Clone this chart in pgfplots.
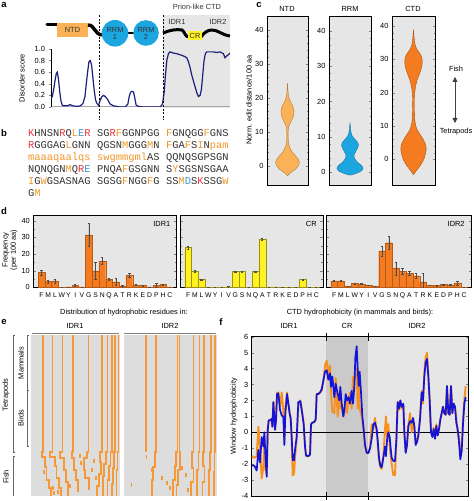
\documentclass[border=0pt]{standalone}
\usepackage{fontspec}
\setmainfont{Liberation Sans}
\setsansfont{Liberation Sans}
\setmonofont{Liberation Mono}
\usepackage{pgfplots}
\pgfplotsset{compat=1.18}
\usetikzlibrary{arrows.meta}

\definecolor{bgG}{HTML}{E6E6E6}
\definecolor{bgE}{HTML}{DDDDDD}
\definecolor{crG}{HTML}{CACACA}
\definecolor{orD}{HTML}{F47B20}
\definecolor{orL}{HTML}{FBB257}
\definecolor{orE}{HTML}{F59A36}
\definecolor{cyC}{HTML}{1BA6DF}
\definecolor{yeC}{HTML}{FFF21F}
\definecolor{navyC}{HTML}{1B1F7A}
\definecolor{blueF}{HTML}{1414D8}
\definecolor{orF}{HTML}{F7901E}
\definecolor{sqR}{HTML}{E8323C}
\definecolor{sqO}{HTML}{F0962A}
\definecolor{sqB}{HTML}{2B9BD8}
\definecolor{txt}{HTML}{333333}

\newcommand\xr[1]{\textcolor{sqR}{#1}}
\newcommand\xo[1]{\textcolor{sqO}{#1}}
\newcommand\xb[1]{\textcolor{sqB}{#1}}
\newcommand\fs{\fontsize{7.4}{8.4}\selectfont}
\newcommand\seqf{\ttfamily\fontsize{10.4}{12}\selectfont\color{txt}}

\pgfplotsset{
  panel/.style={scale only axis, anchor=south west,
    axis background/.style={fill=bgG},
    font=\fs, tick label style={font=\fs},
    /pgf/number format/assume math mode=true,
    tick align=inside, xtick=\empty,
    major tick length=2.5pt, minor tick length=1.5pt,
    axis line style={line width=0.5pt},
  },
  dbars/.style={panel, ybar, bar width=1, ymin=0, ymax=43.4, xmin=-1.2, xmax=20,
    height=72.3pt, xtick={0,...,19},
    xticklabels={F,M,L,W,Y,I,V,G,S,N,Q,A,T,R,K,E,D,P,H,C},
    x tick style={draw=none}, ytick={0,10,20,30,40}, minor y tick num=1,
    xticklabel style={font=\fontsize{6.8}{7}\selectfont, yshift=1pt},
    error bars/y dir=both, error bars/y explicit,
    error bars/error bar style={line width=0.4pt, black!70},
    error bars/error mark options={rotate=90, mark size=1.2pt, line width=0.4pt, black!70}},
  violin/.style={panel, xmin=-1, xmax=1, height=169pt, ytick={0,10,20,30,40}, minor y tick num=4},
  eline/.style={orE, line width=1.6pt, mark=none},
}

\begin{document}
\begin{tikzpicture}[x=1pt,y=1pt]
\useasboundingbox (0,0) rectangle (474,501);

% ---------------- panel a ----------------
\fill[bgG] (163,{501-108}) rectangle (230,{501-15});
\begin{axis}[scale only axis, anchor=south west, at={(51pt,394pt)}, width=179pt, height=58pt,
  xmin=152, xmax=690, ymin=0, ymax=1,
  axis x line=bottom, axis y line=left, axis line style={-},
  x axis line style={draw=gray!70, line width=1pt},
  xtick=\empty, ytick={0,0.2,0.4,0.6,0.8,1},
  yticklabel style={/pgf/number format/.cd, fixed, fixed zerofill, precision=1},
  tick align=outside, major tick length=2.5pt,
  font=\fs, tick label style={font=\fs}, /pgf/number format/assume math mode=true,
  ylabel={Disorder score}, ylabel style={yshift=3pt}]
\addplot[navyC, line width=1.2pt] coordinates {
(152,0.15) (156,0.18) (160,0.3) (164,0.45) (168,0.58) (171,0.6) (174,0.5) (178,0.28)
(182,0.1) (186,0.03) (192,0.02) (200,0.02) (210,0.04) (218,0.02) (230,0.01) (240,0.02)
(248,0.06) (254,0.18) (258,0.4) (262,0.6) (266,0.78) (270,0.8) (274,0.72) (278,0.5)
(282,0.28) (286,0.12) (290,0.06) (295,0.03) (300,0.12) (305,0.18) (310,0.2) (315,0.18)
(320,0.15) (325,0.1) (330,0.05) (340,0.02) (350,0.01) (360,0.0) (375,0.0) (383,0.05)
(387,0.18) (391,0.25) (395,0.27) (400,0.26) (404,0.15) (408,0.03) (415,0.01) (430,0.0)
(460,0.0) (480,0.0) (487,0.05) (492,0.25) (496,0.55) (500,0.8) (505,0.92) (510,0.95)
(520,0.93) (530,0.92) (540,0.9) (550,0.88) (560,0.85) (565,0.78) (570,0.68) (575,0.55)
(580,0.45) (585,0.35) (590,0.25) (595,0.18) (600,0.2) (604,0.3) (608,0.55) (612,0.8)
(616,0.92) (620,0.95) (630,0.95) (640,0.95) (650,0.94) (660,0.95) (670,0.92) (675,0.85)
(680,0.88) (685,0.9) (690,0.93)};
\end{axis}
\draw[black, line width=0.7pt, dash pattern=on 2pt off 1.6pt] (99,{501-15}) -- (99,{501-120});
\draw[black, line width=0.7pt, dash pattern=on 2pt off 1.6pt] (163,{501-15}) -- (163,{501-120});
% domain diagram
\draw[line width=3pt, line cap=round] (47,{501-25}) -- (57,{501-25});
\fill[orL] (57,{501-37}) rectangle (88,{501-23});
\node[font=\fs, txt] at (72.5,{501-30}) {NTD};
\draw[line width=3.4pt] (88,{501-25}) .. controls (95,{501-25}) and (94,{501-34}) .. (102,{501-35});
\draw[line width=2.5pt] (128,{501-33}) -- (134,{501-33});
\fill[cyC] (115,{501-33.3}) circle (13.3);
\fill[cyC] (146,{501-33}) circle (12.8);
\node[font=\fs, align=center, txt, inner sep=0pt] at (115,{501-33.5}) {RRM\\[-1pt]1};
\node[font=\fs, align=center, txt, inner sep=0pt] at (146,{501-33.5}) {RRM\\[-1pt]2};
\draw[line width=3pt] (163,{501-33}) .. controls (170,{501-30}) and (177,{501-29}) .. (182,{501-30}) .. controls (185,{501-32}) and (185,{501-37}) .. (189,{501-37});
\draw[line width=3pt] (201,{501-37}) .. controls (204,{501-33}) and (207,{501-30}) .. (212,{501-30}) .. controls (218,{501-30}) and (222,{501-35}) .. (230,{501-36});
\fill[yeC] (188,{501-40.5}) rectangle (202,{501-31.5});
\node[font=\fs, txt] at (195,{501-36}) {CR};
\node[font=\fs, txt] at (177,{501-22}) {IDR1};
\node[font=\fs, txt] at (218,{501-22}) {IDR2};
\node[font=\fs, txt] at (197,{501-7}) {Prion-like CTD};

% ---------------- panel b ----------------
\node[anchor=base west, inner sep=0pt, font=\seqf] at (28,{501-136.5}) {\xr{K}HNSN\xr{R}Q\xo{L}\xb{E}\xr{R}};
\node[anchor=base west, inner sep=0pt, font=\seqf] at (97,{501-136.5}) {SG\xr{R}\xo{F}GGNPGG};
\node[anchor=base west, inner sep=0pt, font=\seqf] at (166,{501-136.5}) {\xo{F}GNQGG\xo{F}GNS};
\node[anchor=base west, inner sep=0pt, font=\seqf] at (28,{501-148.6}) {\xr{R}GGGAG\xo{L}GNN};
\node[anchor=base west, inner sep=0pt, font=\seqf] at (97,{501-148.6}) {QGSN\xo{M}GGG\xo{M}N};
\node[anchor=base west, inner sep=0pt, font=\seqf] at (166,{501-148.6}) {\xo{F}GA\xo{F}S\xo{I}N\xo{pam}};
\node[anchor=base west, inner sep=0pt, font=\seqf] at (28,{501-160.7}) {\xo{maaaqaalqs}};
\node[anchor=base west, inner sep=0pt, font=\seqf] at (97,{501-160.7}) {\xo{swgmmgml}AS};
\node[anchor=base west, inner sep=0pt, font=\seqf] at (166,{501-160.7}) {QQNQSGPSGN};
\node[anchor=base west, inner sep=0pt, font=\seqf] at (28,{501-172.8}) {NQNQGN\xo{M}Q\xr{R}\xb{E}};
\node[anchor=base west, inner sep=0pt, font=\seqf] at (97,{501-172.8}) {PNQA\xo{F}GSGNN};
\node[anchor=base west, inner sep=0pt, font=\seqf] at (166,{501-172.8}) {S\xo{Y}SGSNSGAA};
\node[anchor=base west, inner sep=0pt, font=\seqf] at (28,{501-184.9}) {\xo{I}G\xo{W}GSASNAG};
\node[anchor=base west, inner sep=0pt, font=\seqf] at (97,{501-184.9}) {SGSG\xo{F}NGG\xo{F}G};
\node[anchor=base west, inner sep=0pt, font=\seqf] at (166,{501-184.9}) {SS\xo{M}\xb{D}S\xr{K}SSG\xo{W}};
\node[anchor=base west, inner sep=0pt, font=\seqf] at (28,{501-197}) {G\xo{M}};

% ---------------- panel c ----------------
\begin{axis}[violin, at={(267pt,316pt)}, width=41pt, ymin=-5.6, ymax=44]
\addplot[fill=orL, draw=orL!70!black, line width=0.4pt, smooth, tension=0.3] coordinates {
(0,-2.9) (0.15,-2) (0.38,-1) (0.52,0) (0.58,1) (0.52,2) (0.38,3) (0.24,4) (0.14,5) (0.08,6)
(0.05,7) (0.03,8.5) (0.03,10) (0.06,11.5) (0.17,13) (0.28,14.5) (0.32,16) (0.26,17.5)
(0.13,19) (0.05,20.5) (0.025,22) (0,24.3)
(-0.025,22) (-0.05,20.5) (-0.13,19) (-0.26,17.5) (-0.32,16) (-0.28,14.5) (-0.17,13)
(-0.06,11.5) (-0.03,10) (-0.03,8.5) (-0.05,7) (-0.08,6) (-0.14,5) (-0.24,4) (-0.38,3)
(-0.52,2) (-0.58,1) (-0.52,0) (-0.38,-1) (-0.15,-2)} -- cycle;
\end{axis}
\begin{axis}[violin, at={(329pt,316pt)}, width=42pt, ymin=-3.7, ymax=44.3]
\addplot[fill=cyC, draw=cyC!70!black, line width=0.4pt, smooth, tension=0.3] coordinates {
(0,-0.9) (0.25,-0.5) (0.52,0.2) (0.62,1) (0.55,1.8) (0.35,2.8) (0.22,3.8) (0.19,4.8)
(0.27,5.8) (0.38,7) (0.4,7.7) (0.35,8.5) (0.2,9.5) (0.08,10.5) (0.03,12) (0,13.8)
(-0.03,12) (-0.08,10.5) (-0.2,9.5) (-0.35,8.5) (-0.4,7.7) (-0.38,7) (-0.27,5.8) (-0.19,4.8)
(-0.22,3.8) (-0.35,2.8) (-0.55,1.8) (-0.62,1) (-0.52,0.2) (-0.25,-0.5)} -- cycle;
\end{axis}
\begin{axis}[violin, at={(392pt,316pt)}, width=43pt, ymin=-7.7, ymax=43]
\addplot[fill=orD, draw=orD!70!black, line width=0.4pt, smooth, tension=0.3] coordinates {
(0,-4.6) (0.12,-3.5) (0.3,-2) (0.48,0) (0.57,2) (0.59,3.1) (0.56,4.5) (0.45,6) (0.3,7.5)
(0.16,9) (0.09,10.5) (0.06,12) (0.045,15) (0.045,18) (0.06,20) (0.1,22) (0.18,24) (0.3,26)
(0.39,28) (0.41,29.5) (0.36,31) (0.27,32) (0.16,33) (0.07,34.5) (0.03,36.5) (0,38.7)
(-0.03,36.5) (-0.07,34.5) (-0.16,33) (-0.27,32) (-0.36,31) (-0.41,29.5) (-0.39,28) (-0.3,26)
(-0.18,24) (-0.1,22) (-0.06,20) (-0.045,18) (-0.045,15) (-0.06,12) (-0.09,10.5) (-0.16,9)
(-0.3,7.5) (-0.45,6) (-0.56,4.5) (-0.59,3.1) (-0.57,2) (-0.48,0) (-0.3,-2) (-0.12,-3.5)} -- cycle;
\end{axis}
\node[font=\fs] at (287,{501-9}) {NTD};
\node[font=\fs] at (350,{501-9}) {RRM};
\node[font=\fs] at (413,{501-9}) {CTD};
\node[font=\fs, rotate=90] at (249,{501-100}) {Norm. edit distance/100 aa};
\draw[{Triangle[length=5pt,width=5pt]}-{Triangle[length=5pt,width=5pt]}, line width=0.8pt, black!75] (455,{501-77}) -- (455,{501-123});
\node[font=\fs] at (456,{501-69}) {Fish};
\node[font=\fs] at (456,{501-132}) {Tetrapods};

% ---------------- panel d ----------------
\begin{axis}[dbars, at={(33.3pt,213.7pt)}, width=143.4pt]
\addplot[fill=orD, draw=orD!75!black, line width=0.3pt] table[x=x, y=v, y error=e] {
x v e
0 8.8 1.5
1 3.4 1.0
2 3.8 1.2
3 0.1 0
4 0.3 0
5 1.2 0.8
6 0.2 0
7 31.4 7
8 9.8 5
9 15.8 2.2
10 4.8 0.8
11 3.2 2.2
12 0.4 1.0
13 7.2 1.2
14 1.4 0.3
15 1.2 0.3
16 0.2 0
17 1.2 1.0
18 1.6 0.4
19 0 0
};
\node[anchor=north east, font=\fs] at (rel axis cs:0.98,0.96) {IDR1};
\end{axis}
\begin{axis}[dbars, at={(180pt,213.7pt)}, width=143pt, yticklabels={}]
\addplot[fill=yeC, draw=yeC!60!black, line width=0.3pt] table[x=x, y=v, y error=e] {
x v e
0 23.8 1.0
1 9.4 0.6
2 4.6 0.3
3 0 0
4 0 0
5 0 0
6 0.2 0.5
7 9.4 0.2
8 9.4 0.2
9 0 0
10 9.4 0.2
11 28.8 0.8
12 0.2 0
13 0.2 0
14 0 0
15 0 0
16 0 0
17 4.6 0.3
18 0 0
19 0 0
};
\node[anchor=north east, font=\fs] at (rel axis cs:0.98,0.96) {CR};
\end{axis}
\begin{axis}[dbars, at={(326pt,213.7pt)}, width=145pt, yticklabels={}]
\addplot[fill=orD, draw=orD!75!black, line width=0.3pt] table[x=x, y=v, y error=e] {
x v e
0 3.8 0.4
1 3.8 0.4
2 0.6 0
3 2.4 0.3
4 2.0 0.3
5 1.2 0.2
6 0.6 0
7 21.8 3
8 26.8 4
9 11.2 4
10 9.6 1.8
11 8.4 1.0
12 6.8 1.6
13 3.2 5
14 1.2 0.2
15 1.2 0.3
16 1.6 0.2
17 1.4 0.3
18 2.6 1.2
19 0 0
};
\node[anchor=north east, font=\fs] at (rel axis cs:0.98,0.96) {IDR2};
\end{axis}
\node[font=\fs, rotate=90, align=center] at (10,{501-250}) {Frequency\\(per 100 aa)};

% ---------------- panel e ----------------
\begin{axis}[scale only axis, anchor=south west, at={(0pt,1pt)}, width=230pt, height=170pt,
  xmin=0, xmax=230, ymin=330, ymax=500, y dir=reverse, hide axis, clip=false]
\fill[bgE] (axis cs:31,335) rectangle (axis cs:120,496);
\fill[bgE] (axis cs:124,335) rectangle (axis cs:217,496);
\addplot[eline] coordinates {(42.7,335)(42.7,452)(41.7,452)(41.7,457)(45,457)(45,467)(46.5,467)(46.5,480)(49,480)(49,488)(51,488)(51,496)};
\addplot[eline] coordinates {(52.3,335)(52.3,452)(50,452)(50,457)(55,457)(55,466)(56.5,466)(56.5,478)(59,478)(59,488)(61,488)(61,496)};
\addplot[eline] coordinates {(62.3,335)(62.3,452)(60,452)(60,458)(64,458)(64,470)(66,470)(66,482)(68,482)(68,496)};
\addplot[eline] coordinates {(72.7,335)(72.7,452)(71.7,452)(71.7,458)(74,458)(74,470)(76,470)(76,480)(78,480)(78,492)};
\addplot[eline] coordinates {(88.3,335)(88.3,452)(86.7,452)(86.7,458)(84,458)(84,470)(85,470)(85,478)(89,478)(89,490)};
\addplot[eline] coordinates {(101.7,335)(101.7,452)(100,452)(100,462)(101,462)(101,474)(99,474)(99,486)(97,486)(97,496)};
\addplot[eline] coordinates {(107.3,335)(107.3,452)(106,452)(106,464)(104,464)(104,476)(103,476)(103,496)};
\addplot[eline] coordinates {(111.7,335)(111.7,452)(110.5,452)(110.5,466)(109,466)(109,480)(107.5,480)(107.5,496)};
\addplot[eline] coordinates {(115,335)(115,452)(114,452)(114,468)(113,468)(113,484)(112,484)(112,496)};
\addplot[eline] coordinates {(118.3,335)(118.3,452)(117.5,452)(117.5,470)(116.5,470)(116.5,496)};
\addplot[eline] coordinates {(146,335)(146,452)};
\addplot[eline] coordinates {(156,335)(156,452)(155,452)(155,467)(153,467)(153,480)(152,480)(152,496)};
\addplot[eline] coordinates {(177.3,335)(177.3,452)(176,452)(176,466)(175,466)(175,480)(173,480)(173,496)};
\addplot[eline] coordinates {(179.3,335)(179.3,452)(180,452)(180,470)(178,470)(178,485)(176.5,485)(176.5,496)};
\addplot[eline] coordinates {(193.3,335)(193.3,452)(192,452)(192,468)(193.5,468)(193.5,482)(191,482)(191,496)};
\addplot[eline] coordinates {(199.3,335)(199.3,452)(198.5,452)(198.5,470)(197,470)(197,496)};
\addplot[eline] coordinates {(204,335)(204,452)(203,452)(203,466)(204.5,466)(204.5,482)(202.5,482)(202.5,496)};
\addplot[eline] coordinates {(211,335)(211,452)(210,452)(210,470)(209,470)(209,496)};
\addplot[eline] coordinates {(215,335)(215,452)(214.5,452)(214.5,472)(214,472)(214,496)};
\addplot[orE, only marks, mark=|, mark size=2pt, mark options={line width=1.5pt, orE}] coordinates {
(53,488)(54,493)(44,472)(80,456)(81,463)(94,461)(92,470)(58,492)(70,486)(96,478)
(146.5,457)(131.7,485)(152,470)(162,478)(167,483)(182,468)(186,475)(170,488)(188,490)};
\end{axis}
\node[font=\fs] at (124,{501-313}) {Distribution of hydrophobic residues in:};
\node[font=\fs] at (75,{501-326}) {IDR1};
\node[font=\fs] at (170,{501-326}) {IDR2};
\draw[gray, line width=0.6pt] (32,{501-333}) -- (119,{501-333});
\draw[gray, line width=0.6pt] (124,{501-333}) -- (216,{501-333});
\draw[gray!80!black, line width=0.5pt] (15,{501-335}) -- (13,{501-335}) -- (13,{501-452}) -- (15,{501-452});
\draw[gray!80!black, line width=0.5pt] (15,{501-456}) -- (13,{501-456}) -- (13,{501-496});
\draw[gray!80!black, line width=0.5pt] (29,{501-335}) -- (27,{501-335}) -- (27,{501-390}) -- (29,{501-390});
\draw[gray!80!black, line width=0.5pt] (27,{501-390}) -- (27,{501-446}) -- (29,{501-446});
\node[font=\fs, rotate=90] at (6,{501-395}) {Tetrapods};
\node[font=\fs, rotate=90] at (6,{501-477}) {Fish};
\node[font=\fs, rotate=90] at (21,{501-363}) {Mammals};
\node[font=\fs, rotate=90] at (21,{501-418}) {Birds};

% ---------------- panel f ----------------
\begin{axis}[panel, at={(251.7pt,5pt)}, width=216.3pt, height=159.3pt, xmin=80, xmax=729,
  ymin=-4, ymax=6, ytick={-4,-3,...,6}]
\fill[crG] (axis cs:303,-4) rectangle (axis cs:430,6);
\addplot[black, line width=0.5pt] coordinates {(80,0) (729,0)};
\addplot[orF, line width=1.9pt, line join=round] coordinates {
(80,-1.5) (88,-1.6) (95,-1.5) (100,0.35) (105,-1.0) (110,-2.9) (115,-2.2) (118,-0.3) (121,-2.3)
(125,-2.6) (128,0.2) (131,0.75) (136,0.75) (140,0.85) (142,0.35) (145,1.9) (150,0.3) (153,0.9)
(156,2.5) (160,2.5) (165,1.6) (170,2.5) (175,1.3) (178,-0.5) (181,1.5) (186,2.5) (190,1.8)
(194,1.2) (197,0.9) (200,-0.5) (203,-2.7) (207,-2.6) (210,-1.6) (215,-0.4) (220,1.8) (226,2.0)
(230,1.5) (236,0.6) (240,-0.9) (243,-1.5) (250,-1.5) (255,-1.4) (258,0.5) (262,0.6) (268,0.65)
(272,0.8) (275,2.4) (280,2.4) (285,2.5) (290,2.6) (295,3.2) (300,4.2) (305,4.5) (310,3.6)
(315,4.2) (318,2.5) (322,1.3) (328,1.2) (332,3.4) (338,1.0) (343,2.5) (346,1.5) (350,1.6)
(355,1.0) (358,1.3) (362,2.0) (366,1.2) (370,2.0) (375,2.5) (380,1.5) (384,3.5) (388,3.2)
(391,3.6) (395,4.0) (398,1.5) (401,3.0) (404,1.5) (408,1.2) (412,0.8) (416,0.0) (420,-0.9)
(425,-1.2) (430,-1.3) (435,-1.0) (440,0.5) (445,0.2) (450,0.9) (455,0.0) (458,-0.6) (462,-1.8)
(466,-2.2) (470,-2.3) (475,-1.5) (480,0.2) (483,1.0) (486,-0.3) (490,0.5) (494,-0.8) (497,-1.5)
(500,-2.0) (505,-2.7) (510,-2.7) (514,-0.5) (518,1.9) (522,1.4) (526,2.0) (530,1.5) (535,1.6)
(538,0.0) (542,-1.2) (546,-0.7) (550,0.4) (555,1.2) (560,0.0) (564,0.8) (568,0.3) (572,-0.7)
(576,-0.6) (580,-0.2) (585,0.9) (590,2.6) (594,1.8) (598,3.8) (602,4.7) (606,5.0) (610,3.6)
(614,2.0) (618,0.0) (622,-0.2) (626,0.3) (630,-0.4) (634,0.5) (638,-0.2) (642,0.2) (646,0.8)
(650,1.2) (654,1.6) (658,1.2) (662,1.1) (666,2.9) (670,1.2) (674,1.1) (678,2.9) (682,1.2)
(686,1.8) (690,1.6) (694,0.8) (698,0.0) (702,-0.3) (706,-1.5) (710,-1.0) (714,0.8) (718,2.0)
(722,2.9)};
\addplot[blueF, line width=1.7pt, line join=round] coordinates {
(80,-2.07) (88,-2.1) (95,-2.4) (100,-1.1) (105,-1.9) (110,-0.3) (115,-0.9) (118,0.0) (121,-1.4)
(125,-2.8) (128,0.1) (131,0.75) (136,0.75) (140,0.85) (142,0.35) (145,1.9) (150,0.15) (153,0.75)
(156,2.4) (160,2.45) (165,1.4) (170,1.07) (175,0.95) (178,-0.8) (181,1.2) (186,2.4) (190,1.8)
(194,1.15) (197,0.85) (200,-0.3) (203,-1.75) (207,-1.75) (210,-1.1) (215,-0.3) (220,1.9)
(226,1.95) (230,1.4) (236,0.5) (240,-0.9) (243,-1.45) (250,-1.5) (255,-1.4) (258,0.5) (262,0.6)
(268,0.65) (272,0.8) (275,2.4) (280,2.4) (285,2.5) (290,2.7) (295,3.25) (300,3.8) (305,3.9)
(310,3.3) (315,3.7) (318,2.85) (322,3.5) (328,2.2) (332,3.05) (338,2.4) (343,2.0) (346,2.85)
(350,1.8) (355,1.0) (358,1.4) (362,2.4) (366,2.0) (370,2.2) (375,1.8) (380,2.6) (384,1.8)
(388,2.9) (391,4.7) (395,5.4) (398,4.0) (401,2.9) (404,3.8) (408,2.5) (412,1.0) (416,0.2)
(420,-0.8) (425,-1.3) (430,-1.3) (435,-1.0) (440,-0.4) (445,0.5) (450,0.6) (455,0.2) (458,-0.5)
(462,-1.6) (466,-2.1) (470,-2.2) (475,-1.6) (480,-0.9) (483,-1.5) (486,-0.5) (490,0.0) (494,-0.3)
(497,-1.0) (500,-1.6) (505,-1.8) (510,-1.8) (514,-0.5) (518,1.9) (522,1.5) (526,2.0) (530,1.6)
(535,1.8) (538,0.0) (542,-1.3) (546,-0.8) (550,0.4) (555,0.7) (560,0.6) (564,0.9) (568,0.4)
(572,-0.8) (576,-0.6) (580,-0.2) (585,0.8) (590,2.5) (594,2.0) (598,3.5) (602,4.4) (606,4.6)
(610,3.5) (614,2.0) (618,0.0) (622,-0.3) (626,0.2) (630,-0.4) (634,0.4) (638,-0.2) (642,0.2)
(646,0.8) (650,1.2) (654,1.6) (658,1.2) (662,1.1) (666,2.9) (670,1.2) (674,1.1) (678,2.9)
(682,1.2) (686,1.8) (690,1.6) (694,0.6) (698,0.2) (702,-0.6) (706,-1.7) (710,-1.2) (714,0.5)
(718,1.8) (722,2.2)};
\end{axis}
\draw[black, line width=0.6pt] (326,{501-333}) -- (326,{501-341});
\draw[black, line width=0.6pt] (368.3,{501-333}) -- (368.3,{501-341});
\draw[black, line width=0.6pt] (326,{501-492}) -- (326,{501-500});
\draw[black, line width=0.6pt] (368.3,{501-492}) -- (368.3,{501-500});
\node[font=\fs] at (360,{501-313}) {CTD hydrophobicity (in mammals and birds):};
\node[font=\fs] at (289,{501-326}) {IDR1};
\node[font=\fs] at (347,{501-326}) {CR};
\node[font=\fs] at (417,{501-326}) {IDR2};
\node[font=\fs, rotate=90] at (234,{501-416}) {Window hydrophobicity};

% ---------------- panel letters ----------------
\node[font=\bfseries\fontsize{9.5}{10}\selectfont] at (4,{501-5}) {a};
\node[font=\bfseries\fontsize{9.5}{10}\selectfont] at (4,{501-133}) {b};
\node[font=\bfseries\fontsize{9.5}{10}\selectfont] at (259,{501-5}) {c};
\node[font=\bfseries\fontsize{9.5}{10}\selectfont] at (4,{501-211}) {d};
\node[font=\bfseries\fontsize{9.5}{10}\selectfont] at (4,{501-322}) {e};
\node[font=\bfseries\fontsize{9.5}{10}\selectfont] at (221,{501-322}) {f};
\end{tikzpicture}
\end{document}
